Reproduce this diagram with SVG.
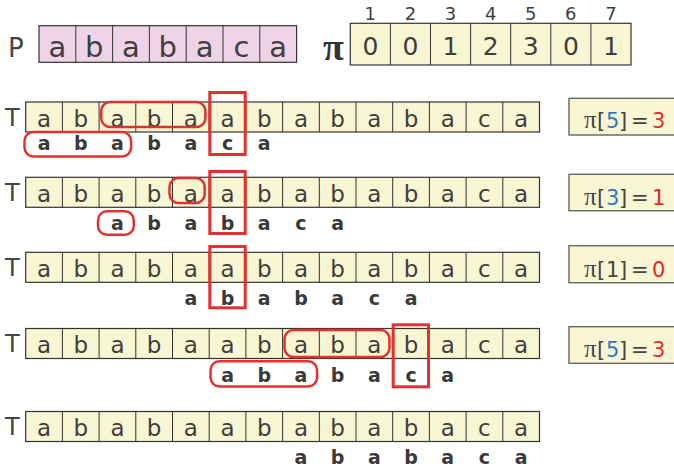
<svg xmlns="http://www.w3.org/2000/svg" xmlns:xlink="http://www.w3.org/1999/xlink" width="674" height="471" viewBox="0 0 674 471">
<style>
.cell{font-family:"DejaVu Sans",sans-serif;font-size:23px;fill:#3e3e3e;text-anchor:middle}
.pc{font-family:"DejaVu Sans",sans-serif;font-size:29px;fill:#3e3e3e;text-anchor:middle}
.dig{font-family:"DejaVu Sans",sans-serif;font-size:25px;fill:#3e3e3e;text-anchor:middle}
.idx{font-family:"DejaVu Sans",sans-serif;font-size:18px;fill:#3e3e3e;text-anchor:middle}
.lbl{font-family:"DejaVu Sans",sans-serif;font-size:24px;fill:#444}
.pat{font-family:"DejaVu Sans",sans-serif;font-size:19px;font-weight:bold;fill:#3a3a3a;text-anchor:middle}
.lt{font-family:"DejaVu Sans",sans-serif;font-size:21px;fill:#444}
.pi{font-family:"Liberation Serif","Times New Roman",serif;font-size:25px}
.blue{fill:#2b78c8}
.red{fill:#e8282e}
.bar{fill:#f9f6d3;stroke:#333;stroke-width:1.2}
.div{stroke:#333;stroke-width:1}
.rr{fill:none;stroke:#e53030;stroke-width:2.5}
.rb{fill:none;stroke:#e53030;stroke-width:3}
.box{fill:#f9f6d3;stroke:#666;stroke-width:1.4}
</style>
<defs>
<g id="tbar">
<rect class="bar" x="25.7" y="0" width="513.8" height="30"/>
<path class="div" d="M62.4 0v30M99.1 0v30M135.8 0v30M172.5 0v30M209.2 0v30M245.9 0v30M282.6 0v30M319.3 0v30M356 0v30M392.7 0v30M429.4 0v30M466.1 0v30M502.8 0v30"/>
<text class="cell" y="24.5"><tspan x="44.05">a</tspan><tspan x="80.75">b</tspan><tspan x="117.45">a</tspan><tspan x="154.15">b</tspan><tspan x="190.85">a</tspan><tspan x="227.55">a</tspan><tspan x="264.25">b</tspan><tspan x="300.95">a</tspan><tspan x="337.65">b</tspan><tspan x="374.35">a</tspan><tspan x="411.05">b</tspan><tspan x="447.75">a</tspan><tspan x="484.45">c</tspan><tspan x="521.15">a</tspan></text>
<text class="lbl" x="5" y="23.5">T</text>
</g>
</defs>

<g id="pattern-P">
<text class="lbl" x="8" y="57" style="font-size:26px">P</text>
<rect x="39" y="25.7" width="257.6" height="36.6" fill="#efd3e7" stroke="#333" stroke-width="1.2"/>
<path class="div" d="M75.8 25.7v36.6M112.6 25.7v36.6M149.4 25.7v36.6M186.2 25.7v36.6M223 25.7v36.6M259.8 25.7v36.6"/>
<text class="pc" y="56.5"><tspan x="57.4">a</tspan><tspan x="94.2">b</tspan><tspan x="131">a</tspan><tspan x="167.8">b</tspan><tspan x="204.6">a</tspan><tspan x="241.4">c</tspan><tspan x="278.2">a</tspan></text>
</g>

<g id="pi-table">
<text x="323" y="60" style="font-family:'Liberation Serif',serif;font-size:38px;font-weight:bold;fill:#333">π</text>
<rect class="bar" x="350.3" y="23.3" width="280.7" height="41.7"/>
<path class="div" d="M390.4 23.3v41.7M430.5 23.3v41.7M470.6 23.3v41.7M510.7 23.3v41.7M550.8 23.3v41.7M590.9 23.3v41.7"/>
<text class="idx" y="20"><tspan x="370.35">1</tspan><tspan x="410.45">2</tspan><tspan x="450.55">3</tspan><tspan x="490.65">4</tspan><tspan x="530.75">5</tspan><tspan x="570.85">6</tspan><tspan x="610.95">7</tspan></text>
<text class="dig" y="55"><tspan x="370.35">0</tspan><tspan x="410.45">0</tspan><tspan x="450.55">1</tspan><tspan x="490.65">2</tspan><tspan x="530.75">3</tspan><tspan x="570.85">0</tspan><tspan x="610.95">1</tspan></text>
</g>

<g id="row1">
<use xlink:href="#tbar" href="#tbar" transform="translate(0 102)"/>
<text class="pat" y="150"><tspan x="44.05">a</tspan><tspan x="80.75">b</tspan><tspan x="117.45">a</tspan><tspan x="154.15">b</tspan><tspan x="190.85">a</tspan><tspan x="227.55">c</tspan><tspan x="264.25">a</tspan></text>
<rect class="rr" x="101.2" y="102" width="104.2" height="25" rx="9"/>
<rect class="rr" x="24.5" y="132" width="106.6" height="24.5" rx="9"/>
<rect class="rb" x="209.8" y="92.5" width="35.4" height="62"/>
</g>
<g id="label1">
<rect class="box" x="569" y="98.3" width="120" height="36.7"/>
<text class="lt" y="127.5"><tspan class="pi" x="584">π</tspan><tspan x="597">[</tspan><tspan class="blue" x="606">5</tspan><tspan x="619">]</tspan><tspan x="631">=</tspan><tspan class="red" x="652">3</tspan></text>
</g>

<g id="row2">
<use xlink:href="#tbar" href="#tbar" transform="translate(0 177.3)"/>
<text class="pat" y="230"><tspan x="117.45">a</tspan><tspan x="154.15">b</tspan><tspan x="190.85">a</tspan><tspan x="227.55">b</tspan><tspan x="264.25">a</tspan><tspan x="300.95">c</tspan><tspan x="337.65">a</tspan></text>
<rect class="rr" x="169.5" y="178" width="35.2" height="25" rx="9"/>
<rect class="rr" x="98" y="211.2" width="35.8" height="23.6" rx="9"/>
<rect class="rb" x="209.8" y="171.5" width="35.4" height="62"/>
</g>
<g id="label2">
<rect class="box" x="569" y="174.3" width="120" height="36.4"/>
<text class="lt" y="205"><tspan class="pi" x="584">π</tspan><tspan x="597">[</tspan><tspan class="blue" x="606">3</tspan><tspan x="619">]</tspan><tspan x="631">=</tspan><tspan class="red" x="652">1</tspan></text>
</g>

<g id="row3">
<use xlink:href="#tbar" href="#tbar" transform="translate(0 252.3)"/>
<text class="pat" y="305"><tspan x="190.85">a</tspan><tspan x="227.55">b</tspan><tspan x="264.25">a</tspan><tspan x="300.95">b</tspan><tspan x="337.65">a</tspan><tspan x="374.35">c</tspan><tspan x="411.05">a</tspan></text>
<rect class="rb" x="209.8" y="246.5" width="35.4" height="61.3"/>
</g>
<g id="label3">
<rect class="box" x="569" y="245.7" width="120" height="37"/>
<text class="lt" y="276.5"><tspan class="pi" x="584">π</tspan><tspan x="597">[</tspan><tspan x="606">1</tspan><tspan x="619">]</tspan><tspan x="631">=</tspan><tspan class="red" x="652">0</tspan></text>
</g>

<g id="row4">
<use xlink:href="#tbar" href="#tbar" transform="translate(0 328.5)"/>
<text class="pat" y="381.5"><tspan x="227.55">a</tspan><tspan x="264.25">b</tspan><tspan x="300.95">a</tspan><tspan x="337.65">b</tspan><tspan x="374.35">a</tspan><tspan x="411.05">c</tspan><tspan x="447.75">a</tspan></text>
<rect class="rr" x="284.5" y="330" width="105" height="27" rx="9"/>
<rect class="rr" x="210.5" y="361.2" width="106.6" height="25.3" rx="9"/>
<rect class="rb" x="393.2" y="324.8" width="35.3" height="62"/>
</g>
<g id="label4">
<rect class="box" x="569" y="326.7" width="120" height="36.6"/>
<text class="lt" y="356.5"><tspan class="pi" x="584">π</tspan><tspan x="597">[</tspan><tspan class="blue" x="606">5</tspan><tspan x="619">]</tspan><tspan x="631">=</tspan><tspan class="red" x="652">3</tspan></text>
</g>

<g id="row5">
<use xlink:href="#tbar" href="#tbar" transform="translate(0 411.5)"/>
<text class="pat" y="463.5"><tspan x="300.95">a</tspan><tspan x="337.65">b</tspan><tspan x="374.35">a</tspan><tspan x="411.05">b</tspan><tspan x="447.75">a</tspan><tspan x="484.45">c</tspan><tspan x="521.15">a</tspan></text>
</g>
<g id="connectors"/>
</svg>
